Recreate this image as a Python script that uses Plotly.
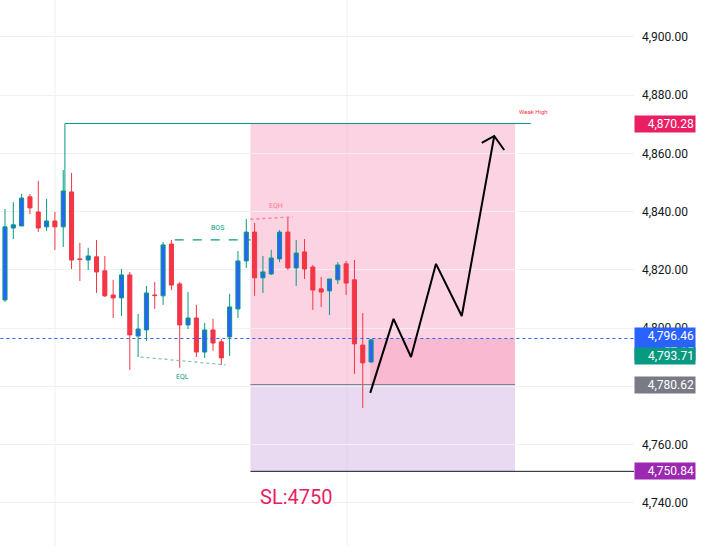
import plotly.graph_objects as go

# OHLC, one candle per bar index
opens = [4809.7, 4834.4, 4835.1, 4845.1, 4839.9, 4834.8, 4836.8, 4834.8, 4846.8, 4823.8,
         4823.4, 4824.5, 4819.7, 4811.4, 4810.4, 4818.3, 4797.3, 4799.4, 4811.4, 4811.1,
         4828.9, 4815.2, 4801.1, 4803.5, 4791.8, 4799.4, 4795.3, 4797.0, 4806.6, 4823.1,
         4833.0, 4817.3, 4818.6, 4823.8, 4833.0, 4820.7, 4826.2, 4821.0, 4813.5, 4812.8,
         4816.6, 4822.1, 4816.6, 4794.2, 4788.4]
highs = [4840.9, 4843.3, 4846.1, 4846.1, 4850.6, 4844.4, 4839.9, 4854.3, 4853.3, 4829.3,
         4827.6, 4830.3, 4824.8, 4816.6, 4820.3, 4819.3, 4804.9, 4814.5, 4815.9, 4829.6,
         4830.3, 4815.9, 4812.4, 4808.0, 4801.8, 4803.2, 4796.3, 4811.8, 4826.5, 4837.5,
         4836.1, 4824.8, 4826.9, 4833.7, 4838.2, 4830.3, 4830.6, 4821.7, 4817.6, 4816.9,
         4822.7, 4823.1, 4823.4, 4805.2, 4796.3]
lows = [4809.0, 4830.6, 4835.1, 4839.2, 4833.0, 4833.4, 4826.9, 4827.9, 4820.3, 4816.2,
        4820.0, 4812.1, 4810.7, 4803.5, 4804.2, 4785.7, 4790.1, 4795.6, 4806.6, 4808.0,
        4813.1, 4786.4, 4799.7, 4790.1, 4789.8, 4792.2, 4787.4, 4790.5, 4803.5, 4820.7,
        4811.1, 4812.1, 4818.3, 4822.7, 4820.0, 4814.5, 4816.9, 4806.3, 4807.3, 4804.5,
        4815.2, 4811.4, 4784.3, 4772.6, 4788.1]
closes = [4834.8, 4835.5, 4844.7, 4841.3, 4834.4, 4836.8, 4834.8, 4847.1, 4823.4, 4823.6,
          4824.8, 4819.3, 4811.1, 4810.4, 4818.3, 4797.7, 4799.7, 4812.1, 4811.2, 4828.6,
          4814.8, 4801.1, 4803.5, 4791.8, 4799.4, 4794.9, 4789.8, 4807.3, 4823.1, 4833.0,
          4817.3, 4819.3, 4824.1, 4833.0, 4820.7, 4825.8, 4820.3, 4813.1, 4812.4, 4816.9,
          4821.7, 4815.5, 4794.6, 4788.1, 4796.0]
bars = list(range(len(opens)))

# projected path
path_x = [43.9, 46.7, 48.8, 51.8, 54.9, 58.8]
path_y = [4777.8, 4803.2, 4790.1, 4822.1, 4804.2, 4866.0]
arrow_x = [57.3, 58.8, 60.0]
arrow_y = [4863.6, 4866.0, 4861.2]

weak_high = 4870.28
last_price = 4796.46
entry = 4780.62
stop = 4750.84
mid_label = 4793.71

fig = go.Figure()

# zones
fig.add_shape(type="rect", x0=29.5, x1=61.3, y0=entry, y1=weak_high,
              fillcolor="rgba(247,140,180,0.38)", line_width=0, layer="below")
fig.add_shape(type="rect", x0=29.5, x1=61.3, y0=stop, y1=entry,
              fillcolor="rgba(200,160,220,0.4)", line_width=0, layer="below")
fig.add_shape(type="rect", x0=43.9, x1=61.3, y0=entry, y1=last_price,
              fillcolor="rgba(240,110,160,0.25)", line_width=0, layer="below")
for gx in [6.0, 41.1]:
    fig.add_shape(type="line", x0=gx, x1=gx, yref="paper", y0=0, y1=1,
                  line=dict(color="#f0f0f0", width=1), layer="below")

fig.add_trace(go.Candlestick(
    x=bars, open=opens, high=highs, low=lows, close=closes,
    increasing=dict(line=dict(color="#089981", width=1), fillcolor="#2962ff"),
    decreasing=dict(line=dict(color="#f23645", width=1), fillcolor="#f23645"),
    whiskerwidth=0, showlegend=False, hoverinfo="skip",
))

# structure lines
fig.add_trace(go.Scatter(x=[7.2, 7.2, 63.2], y=[4846, weak_high, weak_high], mode="lines",
                         line=dict(color="#089981", width=1), showlegend=False))
fig.add_trace(go.Scatter(x=[29.5, 61.3], y=[entry, entry], mode="lines",
                         line=dict(color="#787b86", width=1), showlegend=False))
fig.add_trace(go.Scatter(x=[29.5, 78], y=[stop, stop], mode="lines",
                         line=dict(color="#131722", width=1), showlegend=False))
fig.add_trace(go.Scatter(x=[-2, 78], y=[last_price, last_price], mode="lines",
                         line=dict(color="#2962ff", width=1, dash="dot"), showlegend=False))
fig.add_trace(go.Scatter(x=[20.4, 29.5], y=[4830.3, 4830.3], mode="lines",
                         line=dict(color="#089981", width=1.3, dash="dash"), showlegend=False))
fig.add_trace(go.Scatter(x=[29.5, 34.6], y=[4837.4, 4838.2], mode="lines",
                         line=dict(color="#f77c8e", width=1.3, dash="dot"), showlegend=False))
fig.add_trace(go.Scatter(x=[16.3, 26.5], y=[4790.1, 4787.4], mode="lines",
                         line=dict(color="#7fc9b5", width=1.3, dash="dot"), showlegend=False))
fig.add_trace(go.Scatter(x=path_x, y=path_y, mode="lines",
                         line=dict(color="#000000", width=2), showlegend=False))
fig.add_trace(go.Scatter(x=arrow_x, y=arrow_y, mode="lines",
                         line=dict(color="#000000", width=2), showlegend=False))

def note(x, y, text, color, size=7):
    fig.add_annotation(x=x, y=y, text=text, showarrow=False,
                       font=dict(color=color, size=size, family="Roboto"))

note(25.5, 4834.4, "BOS", "#089981")
note(32.6, 4842.0, "EQH", "#f77c8e")
note(21.3, 4783.4, "EQL", "#089981")
note(63.5, 4874.5, "Weak High", "#f23645", 6)
fig.add_annotation(x=35.0, y=4742.0, text="SL:4750", showarrow=False,
                   font=dict(color="#e91e63", size=20, family="Roboto"))

tags = [(weak_high, "4,870.28", "#e91e63", 0), (last_price, "4,796.46<br>57:15", "#2962ff", -6),
        (mid_label, "4,793.71", "#089981", -9), (entry, "4,780.62", "#787b86", 0),
        (stop, "4,750.84", "#9c27b0", 0)]
for price, text, col, yshift in tags:
    fig.add_annotation(xref="paper", x=1, y=price, text=text, showarrow=False,
                       xanchor="left", xshift=0, yshift=yshift, bgcolor=col,
                       font=dict(color="white", size=12, family="Roboto"),
                       borderpad=1, width=58, align="right")

fig.update_layout(
    width=701, height=546, plot_bgcolor="white", paper_bgcolor="white",
    margin=dict(l=0, r=67, t=0, b=0),
    xaxis=dict(range=[-0.6, 75.6], showgrid=False, showticklabels=False,
               rangeslider_visible=False, zeroline=False),
    yaxis=dict(range=[4725.2, 4912.7], side="right", tickformat=",.2f", dtick=20,
               gridcolor="#f0f0f0", zeroline=False, ticklabelstandoff=7,
               tickfont=dict(color="#131722", size=12, family="Roboto")),
)

fig.write_html("out.html", config={"displayModeBar": False},
               post_script="document.body.style.margin='0';")
